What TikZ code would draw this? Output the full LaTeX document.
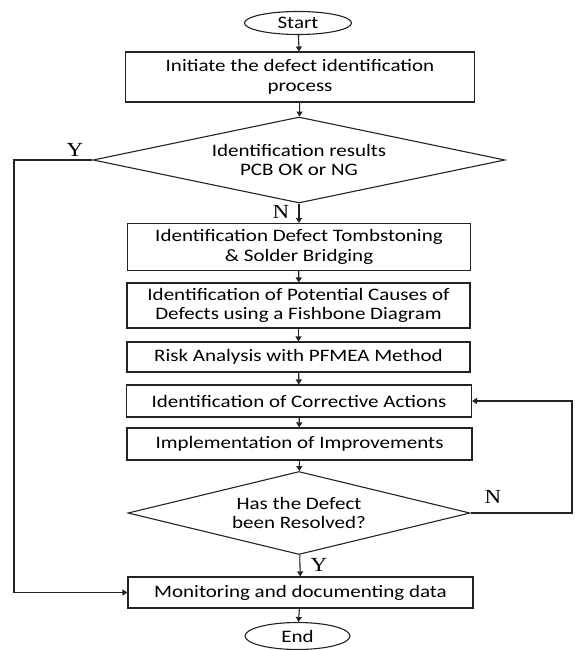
\documentclass[tikz,border=0pt]{standalone}
\usepackage{fontspec}
\setmainfont{Carlito}
\newfontfamily\boxfont[FakeStretch=1.2]{Carlito}
\newfontfamily\ynfont[FakeStretch=1.15]{Liberation Serif}
\usetikzlibrary{arrows.meta,shapes.geometric,positioning}
\definecolor{FlowLine}{RGB}{35,35,35}
\tikzset{
  flow/.style={draw=FlowLine,line width=1.1pt,-{Triangle[length=5pt,width=6pt]}},
  procbox/.style={draw=FlowLine,line width=1.1pt,rectangle,align=center,
    inner sep=2pt,font=\fontsize{17.5}{19.5}\boxfont\selectfont},
  decide/.style={draw=FlowLine,line width=1.1pt,diamond,align=center,
    inner sep=0pt,font=\fontsize{17.5}{19.5}\boxfont\selectfont},
  terminal/.style={draw=FlowLine,line width=1.1pt,ellipse,inner sep=0pt,
    font=\fontsize{17.5}{19.5}\boxfont\selectfont},
  yn/.style={font=\fontsize{20}{22}\ynfont\selectfont}
}
\begin{document}
\begin{tikzpicture}[x=1pt,y=-1pt]
  \useasboundingbox (0,0) rectangle (574,650);
  % terminals and steps
  \node[terminal,minimum width=107,minimum height=23] (start) at (298,23) {Start};
  \node[procbox,minimum width=349,minimum height=50] (init) at (300,77)
    {Initiate the defect identification\\process};
  \node[decide,aspect=4.8,minimum width=412,minimum height=86] (check) at (299,160)
    {Identification results\\PCB OK or NG};
  \node[procbox,minimum width=343,minimum height=47] (tomb) at (299,247)
    {Identification Defect Tombstoning\\\& Solder Bridging};
  \node[procbox,minimum width=343,minimum height=45] (fish) at (298.5,305.5)
    {Identification of Potential Causes of\\Defects using a Fishbone Diagram};
  \node[procbox,minimum width=343,minimum height=30] (risk) at (298.5,357)
    {Risk Analysis with PFMEA Method};
  \node[procbox,minimum width=345,minimum height=32] (corr) at (299,401)
    {Identification of Corrective Actions};
  \node[procbox,minimum width=345,minimum height=32] (impl) at (299.5,444)
    {Implementation of Improvements};
  \node[decide,aspect=4.1,minimum width=342,minimum height=83] (solved) at (299,513)
    {Has the Defect\\been Resolved?};
  \node[procbox,minimum width=345,minimum height=31] (monitor) at (300.5,592.5)
    {Monitoring and documenting data};
  \node[terminal,minimum width=105,minimum height=27] (finish) at (297.5,636) {End};
  % branch labels
  \node[yn] (okY) at (75,150) {Y};
  \node[yn] (ngN) at (281,212) {N};
  \node[yn] (notN) at (493,497) {N};
  \node[yn] (doneY) at (319,565) {Y};
  % loop corners
  \coordinate (leftTurn) at (14,160);
  \coordinate (rightTurn) at (572,513);
  % connectors
  \draw[flow] (start) -- (init);
  \draw[flow] (init) -- (check);
  \draw[flow] (check) -- (tomb);
  \draw[flow] (tomb) -- (fish);
  \draw[flow] (fish) -- (risk);
  \draw[flow] (risk) -- (corr);
  \draw[flow] (corr) -- (impl);
  \draw[flow] (impl) -- (solved);
  \draw[flow] (solved) -- (monitor);
  \draw[flow] (monitor) -- (finish);
  \draw[flow] (check.west) -- (leftTurn) |- (monitor.west);
  \draw[flow] (solved.east) -- (rightTurn) |- (corr.east);
\end{tikzpicture}
\end{document}
